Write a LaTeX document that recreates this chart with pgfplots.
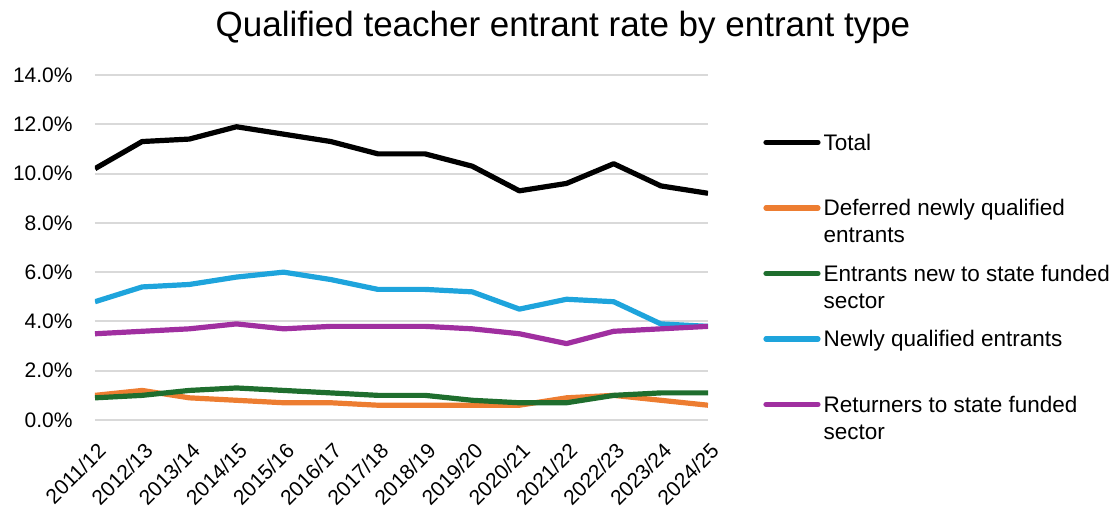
\documentclass[border=0pt]{standalone}
\usepackage{fontspec}
\setmainfont{Liberation Sans}
\usepackage{pgfplots}
\usepackage{pgfplotstable}
\pgfplotsset{compat=1.18}

\definecolor{cTotal}{HTML}{000000}
\definecolor{cDeferred}{HTML}{ED7D31}
\definecolor{cNewState}{HTML}{1F6E2E}
\definecolor{cNQE}{HTML}{1EA4DC}
\definecolor{cReturn}{HTML}{A02FA0}

% Entrant rates (%) by year; x = 0 is 2011/12
\pgfplotstableread{
x total deferred newstate nqe returners
0  10.2 1.0 0.9 4.8 3.5
1  11.3 1.2 1.0 5.4 3.6
2  11.4 0.9 1.2 5.5 3.7
3  11.9 0.8 1.3 5.8 3.9
4  11.6 0.7 1.2 6.0 3.7
5  11.3 0.7 1.1 5.7 3.8
6  10.8 0.6 1.0 5.3 3.8
7  10.8 0.6 1.0 5.3 3.8
8  10.3 0.6 0.8 5.2 3.7
9  9.3  0.6 0.7 4.5 3.5
10 9.6  0.9 0.7 4.9 3.1
11 10.4 1.0 1.0 4.8 3.6
12 9.5  0.8 1.1 3.9 3.7
13 9.2  0.6 1.1 3.8 3.8
}\ratedata

% two-line legend text, baseline on its first line
\newcommand{\twolines}[2]{\begin{tabular}[t]{@{}l@{}}#1\\#2\end{tabular}}

\begin{document}
\begin{tikzpicture}
\useasboundingbox (-47.5pt,-45pt) rectangle (509.5pt,210pt);
\begin{axis}[
  scale only axis, width=306.5pt, height=172.5pt,
  xmin=0, xmax=13, ymin=0, ymax=14,
  ytick={0,2,...,14},
  xtick={0,...,13},
  xticklabels={2011/12,2012/13,2013/14,2014/15,2015/16,2016/17,2017/18,2018/19,2019/20,2020/21,2021/22,2022/23,2023/24,2024/25},
  axis line style={draw=none},
  major tick length=0pt,
  ymajorgrids, grid style={draw=black!15, line width=1pt},
  /pgf/number format/assume math mode=true,
  yticklabel={\pgfmathprintnumber[fixed,fixed zerofill,precision=1]{\tick}\%},
  tick label style={font=\fontsize{10.5}{12}\selectfont},
  yticklabel style={inner sep=0pt, xshift=-11pt},
  xticklabel style={xshift=3.5pt, yshift=-13.5pt, rotate=45, anchor=east, inner sep=0pt},
  title={Qualified teacher entrant rate by entrant type},
  title style={at={(axis description cs:0.7635,1)}, anchor=center, yshift=18pt, font=\fontsize{17.5}{21}\selectfont},
  legend style={at={(axis description cs:1.0897,0.829)}, anchor=north west,
    draw=none, fill=none, inner sep=0pt, column sep=1.5pt, row sep=0pt,
    cells={anchor=base west},
    nodes={inner sep=0pt, text height=8pt, text depth=24.75pt, font=\fontsize{11.25}{13.5}\selectfont}},
  legend image code/.code={\draw[#1, line cap=round] (0pt,4pt) -- (26pt,4pt);},
]
\addplot[cTotal, line width=2.6pt, line join=round] table[x=x, y=total] {\ratedata};
\addlegendentry{Total}
\addplot[cDeferred, line width=2.6pt, line join=round] table[x=x, y=deferred] {\ratedata};
\addlegendentry{\twolines{Deferred newly qualified}{entrants}}
\addplot[cNewState, line width=2.6pt, line join=round] table[x=x, y=newstate] {\ratedata};
\addlegendentry{\twolines{Entrants new to state funded}{sector}}
\addplot[cNQE, line width=2.6pt, line join=round] table[x=x, y=nqe] {\ratedata};
\addlegendentry{Newly qualified entrants}
\addplot[cReturn, line width=2.6pt, line join=round] table[x=x, y=returners] {\ratedata};
\addlegendentry{\twolines{Returners to state funded}{sector}}
\end{axis}
\end{tikzpicture}
\end{document}
